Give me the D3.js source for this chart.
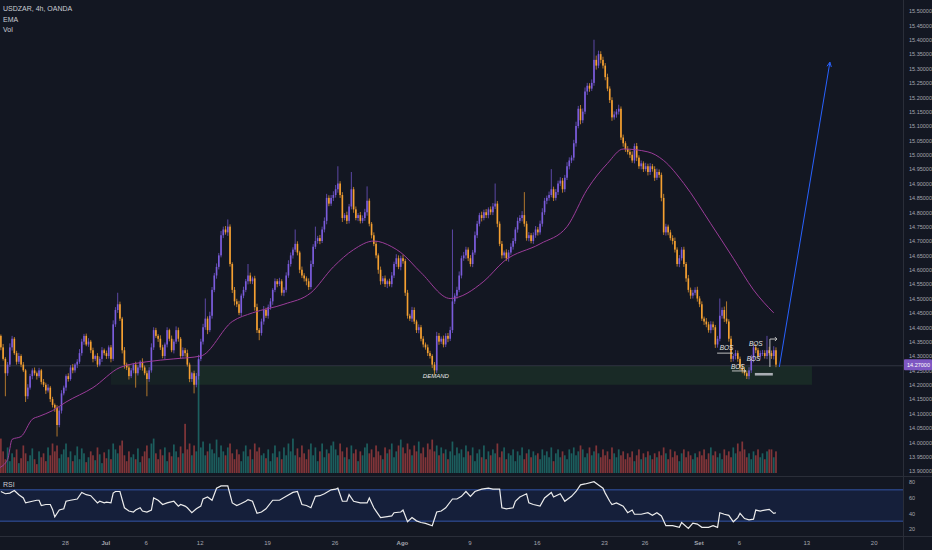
<!DOCTYPE html>
<html>
<head>
<meta charset="utf-8">
<script src="https://cdn.jsdelivr.net/npm/d3@7"></script>
<style>
html, body { margin: 0; background: #131722; }
svg { display: block; font-family: "Liberation Sans", Roboto, sans-serif; }
</style>
</head>
<body>
<svg id="chart" width="932" height="550"></svg>
<script>
// USDZAR 4h candles, closes (open = previous close)
var firstOpen = 14.40;
var closes = [
  14.37,14.33,14.29,14.24,14.27,14.33,14.36,14.31,14.28,14.30,
  14.27,14.25,14.16,14.19,14.23,14.25,14.24,14.23,14.25,14.21,
  14.20,14.18,14.19,14.15,14.13,14.12,14.06,14.11,14.17,14.19,
  14.23,14.22,14.26,14.25,14.27,14.28,14.31,14.35,14.37,14.34,
  14.35,14.32,14.29,14.30,14.27,14.29,14.32,14.31,14.30,14.33,
  14.29,14.41,14.46,14.48,14.43,14.32,14.27,14.26,14.23,14.25,
  14.27,14.24,14.26,14.28,14.26,14.24,14.22,14.25,14.33,14.39,
  14.37,14.36,14.33,14.30,14.34,14.39,14.36,14.32,14.35,14.39,
  14.36,14.30,14.32,14.31,14.27,14.22,14.24,14.20,14.23,14.29,
  14.35,14.40,14.43,14.39,14.44,14.53,14.58,14.61,14.65,14.72,
  14.74,14.73,14.75,14.62,14.53,14.49,14.48,14.45,14.51,14.53,
  14.56,14.58,14.56,14.57,14.47,14.39,14.38,14.42,14.46,14.44,
  14.47,14.49,14.53,14.56,14.55,14.56,14.52,14.53,14.58,14.62,
  14.65,14.67,14.69,14.66,14.60,14.58,14.57,14.56,14.54,14.62,
  14.68,14.70,14.71,14.70,14.74,14.77,14.85,14.83,14.85,14.86,
  14.88,14.90,14.86,14.78,14.79,14.77,14.82,14.88,14.81,14.78,
  14.79,14.77,14.78,14.80,14.84,14.76,14.72,14.69,14.65,14.60,
  14.56,14.57,14.55,14.56,14.55,14.58,14.62,14.64,14.61,14.64,
  14.63,14.52,14.44,14.43,14.46,14.42,14.39,14.40,14.36,14.34,
  14.33,14.31,14.30,14.27,14.25,14.37,14.35,14.36,14.34,14.37,
  14.36,14.39,14.49,14.51,14.53,14.58,14.64,14.65,14.67,14.64,
  14.62,14.66,14.72,14.76,14.79,14.78,14.80,14.79,14.81,14.80,
  14.82,14.83,14.76,14.69,14.65,14.66,14.64,14.66,14.68,14.70,
  14.74,14.77,14.78,14.79,14.76,14.71,14.72,14.70,14.72,14.74,
  14.73,14.76,14.80,14.84,14.85,14.86,14.88,14.85,14.87,14.90,
  14.91,14.88,14.92,14.96,14.98,14.99,15.04,15.10,15.16,15.12,
  15.15,15.22,15.24,15.23,15.25,15.33,15.31,15.35,15.33,15.31,
  15.27,15.23,15.19,15.13,15.14,15.15,15.16,15.06,15.04,15.02,
  15.01,15.00,14.98,15.03,14.99,14.96,14.97,14.95,14.96,14.94,
  14.96,14.95,14.92,14.94,14.93,14.85,14.73,14.75,14.73,14.71,
  14.70,14.67,14.62,14.64,14.67,14.62,14.57,14.53,14.51,14.52,
  14.53,14.50,14.48,14.43,14.42,14.41,14.39,14.41,14.40,14.34,
  14.36,14.44,14.46,14.43,14.42,14.36,14.29,14.30,14.31,14.29,
  14.26,14.25,14.24,14.23,14.25,14.29,14.33,14.32,14.30,14.31,
  14.31,14.30,14.32,14.31,14.30,14.32,14.27
];
// wick length above / below the body, in thousandths
var wickHi = [
  8,5,12,6,9,14,10,6,8,11, 6,9,5,12,8,7,10,6,9,5, 10,7,12,6,8,5,9,14,11,7,
  6,10,8,12,5,9,14,10,7,8, 12,6,9,5,10,8,11,6,9,7, 8,14,10,40,9,6,11,7,12,8,
  6,10,8,5,12,7,9,11,14,10, 8,6,12,9,7,10,5,11,8,13, 9,6,10,8,12,7,5,9,11,14,
  10,12,70,8,14,10,9,12,8,15, 10,12,25,8,6,10,9,12,7,11, 8,40,10,6,9,12,7,10,14,8,
  9,11,6,10,8,12,7,9,11,13, 10,8,50,9,6,11,8,7,10,12, 9,50,8,11,10,12,14,9,10,13,
  15,60,8,10,7,12,9,60,8,10, 7,11,9,12,50,8,6,10,9,7, 11,8,10,6,9,12,8,14,10,9,
  12,8,10,7,11,9,6,10,8,9, 7,10,8,6,9,14,10,8,11,9, 10,12,250,8,11,14,9,12,10,8,
  11,9,13,10,8,12,9,11,7,10, 12,70,9,8,10,7,11,9,12,10, 8,12,10,14,80,9,11,8,10,12,
  9,11,14,10,8,12,70,9,11,10, 12,9,10,14,11,8,12,15,10,13, 11,14,10,9,12,70,15,12,10,11,
  9,12,8,10,11,9,14,8,10,7, 10,8,12,9,11,8,10,7,12,9, 11,8,10,12,9,8,14,10,7,9,
  10,12,8,11,9,10,7,12,8,10, 9,11,8,10,7,12,9,11,10,8, 10,60,9,12,60,8,10,7,11,9,
  8,12,10,9,11,14,10,12,8,9, 11,10,50,12,9,14,10
];
var wickLo = [
  7,10,6,80,9,8,11,6,10,8, 9,6,20,10,7,11,8,12,6,9, 8,12,7,10,9,14,40,8,10,7,
  11,9,6,10,8,12,7,9,11,6, 8,10,12,7,9,6,11,8,10,9, 12,7,9,10,8,11,14,9,12,7,
  10,50,8,9,11,7,60,10,8,9, 7,11,9,8,12,10,9,7,11,8, 10,9,8,12,7,11,10,30,9,12,
  8,10,9,14,7,10,8,11,9,7, 10,8,12,9,11,14,10,8,12,9, 8,11,9,10,12,10,25,9,11,8,
  10,9,12,8,11,7,10,12,9,8, 9,11,8,10,12,9,11,14,10,8, 10,8,9,11,7,10,12,9,8,11,
  9,12,10,14,8,11,9,10,12,8, 11,9,8,10,12,9,11,8,10,14, 12,9,10,14,8,11,9,10,8,12,
  9,11,10,8,12,9,10,11,9,10, 8,10,9,12,16,9,11,8,10,9, 12,8,10,9,11,8,10,9,12,10,
  9,11,8,10,9,12,8,10,11,9, 10,9,12,8,11,10,9,12,8,10, 9,11,8,12,10,9,11,8,10,9,
  11,8,10,9,12,10,8,11,9,10, 9,12,10,8,11,9,10,12,8,14, 10,9,12,11,8,10,14,9,12,10,
  11,9,10,12,8,11,10,9,12,10, 9,11,8,10,12,9,11,10,8,12, 10,9,11,8,10,12,9,11,10,8,
  12,10,9,11,8,10,12,9,11,10, 9,11,10,8,12,10,9,11,10,12, 11,9,10,12,8,10,11,9,12,10,
  9,10,8,10,11,9,12,10,8,11, 10,9,11,8,10,12,9
];
var volumes = [
  18,35,22,14,26,12,20,16,24,10, 15,28,20,12,18,25,14,9,22,16, 20,12,26,18,30,22,28,15,19,24,
  30,16,22,12,18,27,14,25,20,11, 16,22,18,13,26,19,10,21,15,24, 14,30,24,20,28,33,18,12,22,16,
  19,14,25,11,17,22,28,15,30,35, 20,14,24,18,26,12,21,17,29,22, 16,27,20,50,24,30,18,28,22,115,
  26,32,18,22,30,24,20,34,16,28, 22,18,26,30,20,14,24,19,12,22, 28,17,24,14,30,22,26,18,20,15,
  24,12,20,28,16,22,14,26,18,30, 22,35,18,25,16,28,20,14,24,30, 18,26,12,22,30,16,24,20,28,32,
  24,18,30,22,16,26,14,28,20,24, 12,22,18,26,30,20,24,16,28,22, 18,14,26,20,24,30,16,22,28,34,
  26,20,30,24,18,28,22,32,20,26, 16,30,24,34,22,28,18,26,20,24, 14,22,32,18,26,20,24,16,28,22,
  18,26,12,20,24,16,28,14,22,18, 24,20,30,16,22,26,14,20,18,24, 12,22,18,26,14,20,24,16,22,18,
  20,14,24,18,22,16,26,12,20,24, 16,22,18,14,24,20,26,18,22,28, 24,16,20,26,18,22,28,20,16,24,
  18,22,14,26,20,16,24,18,22,14, 20,16,22,12,18,24,14,20,16,22, 18,14,20,16,22,18,26,20,14,24,
  16,22,18,12,20,24,16,22,18,14, 20,16,22,18,24,14,20,26,18,22, 16,20,14,24,18,22,16,26,20,30,
  22,32,24,16,20,14,22,18,24,16, 20,14,22,24,24,16,22
];
// EMA: [candle index, price]
var emaPts = [[0,13.91],[4,13.94],[6,14.01],[10,14.02],[15,14.08],[18,14.09],[24,14.11],[30,14.14],
  [42,14.19],[54,14.26],[66,14.28],[78,14.29],[90,14.30],[104,14.42],[113,14.45],[127,14.48],
  [139,14.52],[149,14.61],[158,14.67],[167,14.70],[175,14.68],[179,14.66],[188,14.59],[201,14.50],
  [216,14.56],[225,14.63],[241,14.69],[253,14.75],[262,14.88],[271,14.97],[278,15.02],[289,15.01],
  [296,14.98],[305,14.90],[317,14.76],[327,14.64],[336,14.53],[345,14.45]];
// RSI: [candle index, value]
var rsiPts = [[1,67.9],[3,65],[5,65.8],[7,69.2],[9,63.8],[11,59.6],[12,53.3],[15,55.4],[17,56.7],[18,56.7],
  [19,50],[21,51.3],[23,51.3],[24,45],[25,35.4],[27,44.2],[29,45.8],[30,55.4],[32,56.7],[35,58.3],
  [37,66.7],[39,63.8],[41,62.5],[44,53.3],[45,55.4],[47,53.3],[48,54.2],[50,53.3],[51,65.8],[52,67.9],
  [54,67.9],[56,47.1],[58,42.9],[60,41.7],[61,44.2],[63,47.1],[64,42.9],[66,41.7],[68,44.2],[69,59.6],
  [71,56.7],[73,51.3],[75,53.3],[78,55.4],[80,49.2],[81,51.3],[83,49.2],[84,47.1],[86,40.8],[88,45.8],
  [90,49.2],[91,58.3],[93,60.8],[95,56.7],[97,72.1],[99,75],[102,75],[104,53.3],[106,50],[108,52.5],
  [110,55.4],[111,57.5],[113,55.4],[115,40],[117,41.7],[119,45.8],[122,56.7],[125,56.7],[128,61.7],
  [131,66.7],[133,67.9],[135,51.3],[137,50],[139,47.1],[141,61.7],[143,62.5],[145,65],[148,70],
  [150,70.8],[151,72.1],[153,55.4],[155,55.4],[156,63.8],[158,55.4],[161,53.3],[164,53.3],[165,59.6],
  [167,47.1],[168,42.9],[170,34.6],[173,35.8],[175,36.7],[176,40.8],[179,41.7],[180,44.2],[182,29.2],
  [184,34.6],[186,30.4],[188,28.3],[190,27.1],[193,24.2],[195,41.7],[197,42.9],[199,47.1],[202,58.3],
  [204,58.3],[206,61.7],[208,67.9],[210,61.7],[212,67.9],[215,70.8],[218,72.1],[220,70.8],[223,70.8],
  [224,47.1],[226,45.8],[229,47.1],[230,55.4],[232,60.8],[235,65],[236,53.3],[238,51.3],[241,49.2],
  [243,59.6],[246,66.7],[247,60.8],[250,65],[252,55.4],[255,61.7],[257,67.9],[259,76.3],[261,77.5],
  [265,80.4],[267,76.3],[269,72.1],[270,65.8],[272,55.4],[273,51.3],[275,53.3],[278,49.2],[280,40.8],
  [282,44.2],[283,38.8],[286,38.8],[289,40.8],[291,37.5],[293,40.8],[295,36.7],[297,24.2],[300,24.2],
  [303,22.1],[304,28.3],[307,20.8],[309,27.5],[311,26.3],[313,22.1],[316,22.1],[318,24.2],[320,22.1],
  [321,40.8],[323,38.8],[325,37.5],[327,29.2],[329,34.6],[330,40],[332,33.3],[334,31.7],[336,32.5],
  [337,44.2],[339,42.9],[341,44.2],[343,45],[345,40],[346,40.8]];

// axis ticks
var dayIndex = [5, 8, 11, 15, 20, 25, 30, 35, 40, 45, 48, 52, 55, 60, 65];
var dayLabels = ["28", "Jul", "6", "12", "19", "26", "Ago", "9", "16", "23", "26", "Set", "6", "13", "20"];
var monthLabels = ["Jul", "Ago", "Set"];
var priceTicks = [13.90,13.95,14.00,14.05,14.10,14.15,14.20,14.25,14.30,14.35,14.40,14.45,14.50,
  14.55,14.60,14.65,14.70,14.75,14.80,14.85,14.90,14.95,15.00,15.05,15.10,15.15,15.20,15.25,
  15.30,15.35,15.40,15.45,15.50];
var rsiTicks = [80, 60, 40, 20];
var lastPrice = 14.27;

// drawings
var demandZone = [14.265, 14.20];
var zoneStart = [50, 88.5], zoneEnd = 362;
var arrowLine = [[347.5, 14.262], [370, 15.322]];
var bosText = ["BOS", "BOS", "BOS", "BOS"];
var bosK = [324, 329, 337, 336];
var bosP = [14.322, 14.256, 14.336, 14.283];
var bosUnder = [[319.8, 326.9, 14.31], [326.4, 332.6, 14.248]];
var turnArrow = [[343.3, 14.262], [343.3, 14.359], [346.4, 14.359]];
var rangeBar = [336.6, 344.6, 14.241, 14.232];

var svg = d3.select("#chart");
var plotR = 903, mainB = 476, rsiB = 536;
var upCol = "#7b5cdc", dnCol = "#f5a031";

var x = d3.scaleLinear().domain([0, 400]).range([-1.38, 897.3]);
var y = d3.scaleLinear().domain([13.9, 15.5]).range([471, 11]);
var yVol = d3.scaleLinear().domain([0, 120]).range([473, 355]);
var yRsi = d3.scaleLinear().domain([20, 80]).range([529, 482]);
var slot = x(1) - x(0);

var candles = closes.map(function(c, i) {
  var o = i === 0 ? firstOpen : closes[i - 1];
  return { i: i, o: o, c: c,
    h: Math.max(o, c) + wickHi[i] / 1000,
    l: Math.min(o, c) - wickLo[i] / 1000,
    v: volumes[i] };
});

var defs = svg.append("defs");
defs.append("clipPath").attr("id", "clipMain").append("rect")
  .attr("x", 0).attr("y", 0).attr("width", plotR).attr("height", mainB);
defs.append("clipPath").attr("id", "clipRsi").append("rect")
  .attr("x", 0).attr("y", mainB + 1).attr("width", plotR).attr("height", rsiB - mainB - 1);

var main = svg.append("g").attr("clip-path", "url(#clipMain)");

// demand zone
zoneStart.forEach(function(s) {
  main.append("rect")
    .attr("x", x(s)).attr("y", y(demandZone[0]))
    .attr("width", x(zoneEnd) - x(s))
    .attr("height", y(demandZone[1]) - y(demandZone[0]))
    .attr("fill", "rgba(76,175,80,0.065)");
});

// last price line
main.append("line")
  .attr("x1", 0).attr("x2", plotR)
  .attr("y1", y(lastPrice - 0.004)).attr("y2", y(lastPrice - 0.004))
  .attr("stroke", "#3a3e4a").attr("stroke-width", 0.8);

// volume
main.selectAll(".vol").data(candles).enter().append("rect")
  .attr("x", function(d) { return x(d.i) - slot * 0.38; })
  .attr("width", slot * 0.76)
  .attr("y", function(d) { return yVol(d.v); })
  .attr("height", function(d) { return yVol(0) - yVol(d.v); })
  .attr("fill", function(d) { return d.c >= d.o ? "#26a69a" : "#ef5350"; })
  .attr("opacity", 0.5);

// candles
var cg = main.selectAll(".candle").data(candles).enter().append("g");
cg.append("line")
  .attr("x1", function(d) { return x(d.i); })
  .attr("x2", function(d) { return x(d.i); })
  .attr("y1", function(d) { return y(d.h); })
  .attr("y2", function(d) { return y(d.l); })
  .attr("stroke", function(d) { return d.c >= d.o ? upCol : dnCol; })
  .attr("stroke-width", 0.7);
cg.append("rect")
  .attr("x", function(d) { return x(d.i) - slot * 0.36; })
  .attr("width", slot * 0.72)
  .attr("y", function(d) { return y(Math.max(d.o, d.c)); })
  .attr("height", function(d) { return Math.max(0.8, Math.abs(y(d.o) - y(d.c))); })
  .attr("fill", function(d) { return d.c >= d.o ? upCol : dnCol; });

// EMA
main.append("path").datum(emaPts)
  .attr("d", d3.line().curve(d3.curveMonotoneX)
    .x(function(d) { return x(d[0]); })
    .y(function(d) { return y(d[1]); }))
  .attr("fill", "none").attr("stroke", "#9b3c99").attr("stroke-width", 1);

// projection arrow
var a0 = [x(arrowLine[0][0]), y(arrowLine[0][1])], a1 = [x(arrowLine[1][0]), y(arrowLine[1][1])];
main.append("line").attr("x1", a0[0]).attr("y1", a0[1]).attr("x2", a1[0]).attr("y2", a1[1])
  .attr("stroke", "#2962ff").attr("stroke-width", 1);
var ang = Math.atan2(a1[1] - a0[1], a1[0] - a0[0]);
[-0.45, 0.45].forEach(function(da) {
  main.append("line").attr("x1", a1[0]).attr("y1", a1[1])
    .attr("x2", a1[0] - 5 * Math.cos(ang + da)).attr("y2", a1[1] - 5 * Math.sin(ang + da))
    .attr("stroke", "#2962ff").attr("stroke-width", 1);
});

// BOS annotations
bosUnder.forEach(function(u, i) {
  main.append("line").attr("x1", x(u[0])).attr("x2", x(u[1]))
    .attr("y1", y(u[2])).attr("y2", y(u[2]))
    .attr("stroke", "#d0d0d0").attr("stroke-width", 0.9);
});
var ue = bosUnder[1];
main.append("path")
  .attr("d", "M" + (x(ue[1]) - 2) + "," + (y(ue[2]) - 1.5) + "L" + x(ue[1]) + "," + y(ue[2]) +
    "L" + (x(ue[1]) - 2) + "," + (y(ue[2]) + 1.5))
  .attr("fill", "none").attr("stroke", "#d0d0d0").attr("stroke-width", 0.8);
main.selectAll(".bos").data(bosText).enter().append("text")
  .attr("x", function(d, i) { return x(bosK[i]); })
  .attr("y", function(d, i) { return y(bosP[i]); })
  .attr("text-anchor", "middle")
  .attr("font-size", 6.5).attr("font-style", "italic")
  .attr("fill", "#e6e6e6")
  .text(function(d) { return d; });
main.append("path").datum(turnArrow)
  .attr("d", d3.line().x(function(d) { return x(d[0]); }).y(function(d) { return y(d[1]); }))
  .attr("fill", "none").attr("stroke", "#d0d0d0").attr("stroke-width", 0.9);
var te = turnArrow[2];
main.append("path")
  .attr("d", "M" + (x(te[0]) - 2) + "," + (y(te[1]) - 2) + "L" + x(te[0]) + "," + y(te[1]) +
    "L" + (x(te[0]) - 2) + "," + (y(te[1]) + 2))
  .attr("fill", "none").attr("stroke", "#d0d0d0").attr("stroke-width", 0.9);
main.append("rect")
  .attr("x", x(rangeBar[0])).attr("width", x(rangeBar[1]) - x(rangeBar[0]))
  .attr("y", y(rangeBar[2])).attr("height", y(rangeBar[3]) - y(rangeBar[2]))
  .attr("fill", "#a9adb3");

main.append("text")
  .attr("x", x(194.6)).attr("y", y(14.224))
  .attr("text-anchor", "middle").attr("font-size", 6).attr("font-style", "italic")
  .attr("fill", "#e6e6e6").text("DEMAND");

// RSI pane
var rsiG = svg.append("g").attr("clip-path", "url(#clipRsi)");
rsiG.append("rect").attr("x", 0).attr("width", plotR)
  .attr("y", yRsi(70)).attr("height", yRsi(30) - yRsi(70))
  .attr("fill", "rgba(41,98,255,0.11)");
[70, 30].forEach(function(v) {
  rsiG.append("line").attr("x1", 0).attr("x2", plotR)
    .attr("y1", yRsi(v)).attr("y2", yRsi(v))
    .attr("stroke", "#3456a8").attr("stroke-width", 1);
});
rsiG.append("path").datum(rsiPts)
  .attr("d", d3.line().x(function(d) { return x(d[0]); }).y(function(d) { return yRsi(d[1]); }))
  .attr("fill", "none").attr("stroke", "#ececec").attr("stroke-width", 1.2);

// pane borders
svg.append("line").attr("x1", 0).attr("x2", 932).attr("y1", mainB + 0.5).attr("y2", mainB + 0.5)
  .attr("stroke", "#2a2e39");
svg.append("line").attr("x1", 0).attr("x2", 932).attr("y1", rsiB + 0.5).attr("y2", rsiB + 0.5)
  .attr("stroke", "#2a2e39");
svg.append("line").attr("x1", plotR + 0.5).attr("x2", plotR + 0.5).attr("y1", 0).attr("y2", 550)
  .attr("stroke", "#2a2e39");

// price axis
var pAxis = svg.append("g").attr("transform", "translate(" + (plotR + 3) + ",0)")
  .call(d3.axisRight(y).tickValues(priceTicks).tickFormat(d3.format(".5f")).tickSize(0));
pAxis.select(".domain").remove();
pAxis.selectAll("text").attr("fill", "#a3a6af").attr("font-size", 5.5)
  .attr("font-family", "Liberation Sans, sans-serif");

svg.append("rect").attr("x", plotR + 1).attr("y", y(lastPrice) - 5.5)
  .attr("width", 28).attr("height", 11).attr("rx", 1).attr("fill", "#7e57c2");
svg.append("text").attr("x", plotR + 4).attr("y", y(lastPrice) + 2)
  .attr("font-size", 5.5).attr("fill", "#ffffff").text(d3.format(".5f")(lastPrice));

// rsi axis
var rAxis = svg.append("g").attr("transform", "translate(" + (plotR + 3) + ",0)")
  .call(d3.axisRight(yRsi).tickValues(rsiTicks).tickSize(0));
rAxis.select(".domain").remove();
rAxis.selectAll("text").attr("fill", "#a3a6af").attr("font-size", 5.5);

// time axis
var xAxis = svg.append("g").attr("transform", "translate(0," + (rsiB + 2) + ")")
  .call(d3.axisBottom(x).tickValues(dayIndex.map(function(d) { return d * 6 - 0.5; }))
    .tickFormat(function(d, i) { return dayLabels[i]; }).tickSize(0));
xAxis.select(".domain").remove();
xAxis.selectAll("text").attr("fill", "#a3a6af").attr("font-size", 6)
  .attr("font-weight", function(d, i) { return monthLabels.indexOf(dayLabels[i]) >= 0 ? "bold" : "normal"; });

// legends
var legend = [["USDZAR, 4h, OANDA", 11], ["EMA", 21.5], ["Vol", 31.5], ["RSI", 487]];
legend.forEach(function(l) {
  svg.append("text").attr("x", 3).attr("y", l[1]).attr("font-size", 7)
    .attr("fill", "#c9ccd4").text(l[0]);
});
</script>
</body>
</html>
